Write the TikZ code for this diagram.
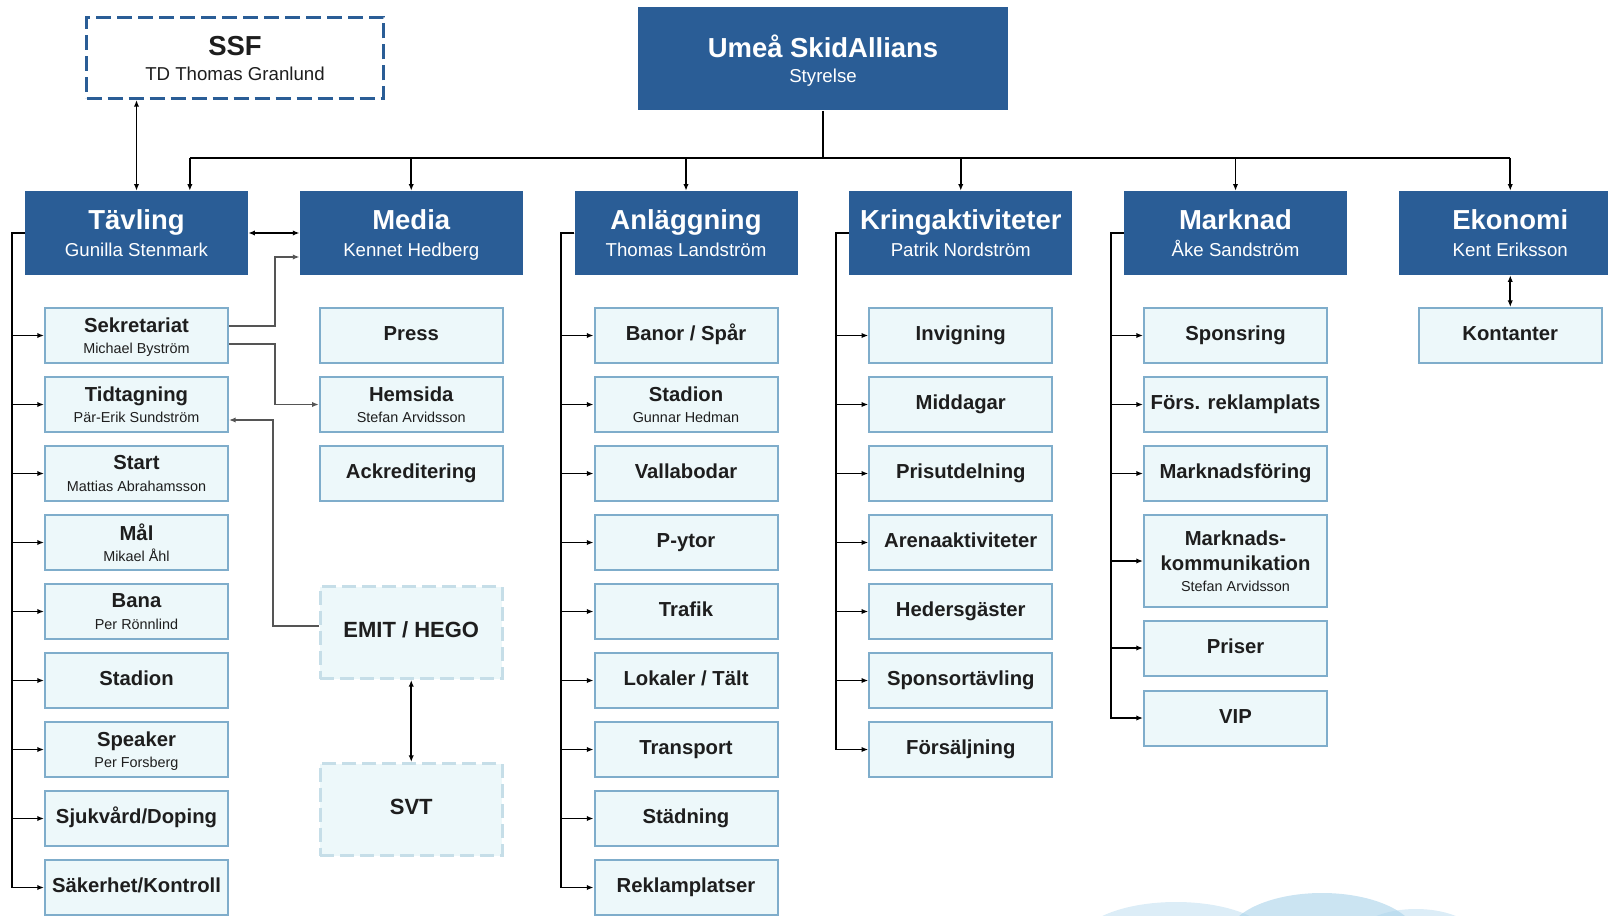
\documentclass[tikz,border=0pt]{standalone}
\usepackage{fontspec}
\setmainfont{Liberation Sans}
\usetikzlibrary{arrows.meta,positioning}

\definecolor{headblue}{HTML}{2A5D96}
\definecolor{boxfill}{HTML}{EDF8FA}
\definecolor{boxline}{HTML}{7FADCB}
\definecolor{dashline}{HTML}{C6DEE8}
\definecolor{darktext}{HTML}{1E1E1E}
\definecolor{graylink}{HTML}{555555}
\definecolor{wavecol}{HTML}{A8D2EA}

\newcommand{\titlefont}{\fontsize{20.6}{20.25}\selectfont\bfseries}
\newcommand{\namefont}{\fontsize{10.8}{16}\selectfont\mdseries}
\newcommand{\person}[1]{\smash{#1}}

\begin{document}
\begin{tikzpicture}[x=0.75pt,y=-0.75pt,
    headbox/.style={fill=headblue,text=white,minimum width=167.25pt,minimum height=63pt,
      inner sep=0pt,align=center,font=\fontsize{14}{20.25}\selectfont},
    unitbox/.style={draw=boxline,line width=1.5pt,fill=boxfill,text=darktext,
      minimum width=137.25pt,minimum height=41.25pt,inner sep=0pt,align=center,
      font=\fontsize{15.2}{16}\selectfont\bfseries},
    oneline/.style={text height=11pt,text depth=3.5pt},
    twoline/.style={},
    tallbox/.style={minimum height=69pt},
    dashbox/.style={draw=dashline,line width=2.25pt,dash pattern=on 10.5pt off 4.5pt,
      fill=boxfill,text=darktext,minimum width=136.5pt,minimum height=69pt,inner sep=0pt,
      font=\fontsize{16.5}{18}\selectfont\bfseries,text height=11pt,text depth=4pt},
    wire/.style={line width=1.4pt},
    conn/.style={wire,-{Latex[length=5pt,width=4pt]}},
    biconn/.style={wire,{Latex[length=5pt,width=4pt]}-{Latex[length=5pt,width=4pt]}},
    grayconn/.style={graylink,line width=1.2pt,-{Latex[length=5pt,width=4pt]}}]

    \useasboundingbox (0,0) rectangle (1608,916);

    %waves in the corner
    \begin{scope}
      \clip (0,0) rectangle (1608,916);
      \fill[wavecol,opacity=0.4] (1176,942) ellipse [x radius=97,y radius=40];
      \fill[wavecol,opacity=0.4] (1416,939) ellipse [x radius=62,y radius=30];
      \fill[wavecol,opacity=0.6] (1322,938) ellipse [x radius=95,y radius=45];
    \end{scope}

    %top boxes
    \node[headbox,minimum width=277.5pt,minimum height=77.25pt] (ume) at (823,59)
      {{\titlefont Umeå SkidAllians}\\[-1.5pt]\person{Styrelse}};
    \node[draw=headblue,line width=2.25pt,dash pattern=on 11.25pt off 4.5pt,fill=white,
      text=darktext,minimum width=222.75pt,minimum height=60.75pt,inner sep=0pt,align=center,
      font=\fontsize{14}{20.25}\selectfont] (ssf) at (235,58)
      {{\titlefont SSF}\\[-1.5pt]\person{TD Thomas Granlund}};

    %department heads
    \node[headbox] (tav) at (136.5,233) {{\titlefont Tävling}\\\person{Gunilla Stenmark}};
    \node[headbox] (med) at (411.25,233) {{\titlefont Media}\\\person{Kennet Hedberg}};
    \node[headbox] (anl) at (686,233) {{\titlefont Anläggning}\\\person{Thomas Landström}};
    \node[headbox] (kri) at (960.75,233) {{\titlefont Kringaktiviteter}\\\person{Patrik Nordström}};
    \node[headbox] (mar) at (1235.5,233) {{\titlefont Marknad}\\\person{Åke Sandström}};
    \node[headbox] (eko) at (1510.25,233) {{\titlefont Ekonomi}\\\person{Kent Eriksson}};

    %bus from the board
    \coordinate (bus) at (823,158);
    \coordinate (tavin) at ([xshift=40pt]tav.north);
    \draw[wire] (ume.south) -- (bus);
    \draw[wire] (bus -| tavin) -- (bus -| eko);
    \draw[conn] (bus -| tavin) -- (tavin);
    \foreach \h in {med,anl,kri,mar,eko}{
        \draw[conn] (bus -| \h) -- (\h.north);
    }
    \draw[biconn] (ssf.south -| tav.north) -- (tav.north);
    \draw[biconn] (tav.east) -- (med.west);

    %Tävling
    \foreach \k/\st/\txt in {1/twoline/{Sekretariat\\{\namefont\person{Michael Byström}}},
        2/twoline/{Tidtagning\\{\namefont\person{Pär-Erik Sundström}}},
        3/twoline/{Start\\{\namefont\person{Mattias Abrahamsson}}},
        4/twoline/{Mål\\{\namefont\person{Mikael Åhl}}},
        5/twoline/{Bana\\{\namefont\person{Per Rönnlind}}},
        6/oneline/{Stadion},
        7/twoline/{Speaker\\{\namefont\person{Per Forsberg}}},
        8/oneline/{Sjukvård/Doping},
        9/oneline/{Säkerhet/Kontroll}}{
        \node[unitbox,\st] (tav-\k) at (136.5,{335.5+69*(\k-1)}) {\txt};
        \draw[conn] (tav.west) -- ++(-13,0) |- (tav-\k.west);
    }

    %Media
    \node[unitbox,oneline] (med-1) at (411.25,335.5) {Press};
    \node[unitbox] (med-2) at (411.25,404.5) {Hemsida\\{\namefont\person{Stefan Arvidsson}}};
    \node[unitbox,oneline] (med-3) at (411.25,473.5) {Ackreditering};
    \node[dashbox] (emit) at (411.25,632.5) {EMIT / HEGO};
    \node[dashbox] (svt) at (411.25,809.5) {SVT};
    \draw[biconn] (emit.south) -- (svt.north);

    %links from Sekretariat and EMIT
    \draw[grayconn] ([yshift=7.125pt]tav-1.east) -- ++(46,0) |- ([yshift=-18pt]med.west);
    \draw[grayconn] ([yshift=-6.375pt]tav-1.east) -- ++(46,0) |- (med-2.west);
    \draw[grayconn] ([yshift=4.875pt]emit.west) -- ++(-46,0) |- ([yshift=-11.625pt]tav-2.east);

    %Anläggning
    \foreach \k/\st/\txt in {1/oneline/{Banor / Spår},
        2/twoline/{Stadion\\{\namefont\person{Gunnar Hedman}}},
        3/oneline/{Vallabodar},4/oneline/{P-ytor},5/oneline/{Trafik},
        6/oneline/{Lokaler / Tält},7/oneline/{Transport},8/oneline/{Städning},
        9/oneline/{Reklamplatser}}{
        \node[unitbox,\st] (anl-\k) at (686,{335.5+69*(\k-1)}) {\txt};
        \draw[conn] (anl.west) -- ++(-13,0) |- (anl-\k.west);
    }

    %Kringaktiviteter
    \foreach \k/\txt in {1/Invigning,2/Middagar,3/Prisutdelning,4/Arenaaktiviteter,
        5/Hedersgäster,6/Sponsortävling,7/Försäljning}{
        \node[unitbox,oneline] (kri-\k) at (960.75,{335.5+69*(\k-1)}) {\txt};
        \draw[conn] (kri.west) -- ++(-13,0) |- (kri-\k.west);
    }

    %Marknad
    \foreach \k/\y/\st/\txt in {1/335.5/oneline/{Sponsring},
        2/404.5/oneline/{Förs. reklamplats},
        3/473.5/oneline/{Marknadsföring},
        4/561/tallbox/{Marknads-\\[2.75pt]kommunikation\\{\namefont\person{Stefan Arvidsson}}},
        5/648/oneline/{Priser},
        6/718/oneline/{VIP}}{
        \node[unitbox,\st] (mar-\k) at (1235.5,\y) {\txt};
        \draw[conn] (mar.west) -- ++(-13,0) |- (mar-\k.west);
    }

    %Ekonomi
    \node[unitbox,oneline] (kon) at (1510.25,335.5) {Kontanter};
    \draw[biconn] (eko.south) -- (kon.north);

\end{tikzpicture}
\end{document}
